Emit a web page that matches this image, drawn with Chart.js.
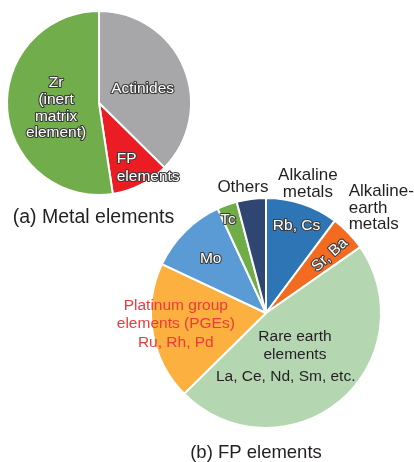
<!DOCTYPE html>
<html>
<head>
<meta charset="utf-8">
<script src="https://cdn.jsdelivr.net/npm/chart.js@4/dist/chart.umd.min.js"></script>
<style>
  html, body { margin: 0; padding: 0; background: #ffffff; }
  #wrap { position: relative; width: 414px; height: 462px; overflow: hidden; }
  #wrap canvas { position: absolute; left: 0; top: 0; }
</style>
</head>
<body>
<div id="wrap">
  <canvas id="metal" width="414" height="462"></canvas>
  <canvas id="fp" width="414" height="462"></canvas>
</div>
<script>
// (a) Metal elements, clockwise from 12 o'clock (share, %)
const metalCategories = ['Actinides', 'FP elements', 'Zr (inert matrix element)'];
const metalValues = [37.4, 10.2, 52.4];
const metalColors = ['#a7a7aa', '#ec1c24', '#71ad4a'];

// (b) FP elements, clockwise from 12 o'clock (share, %)
const fpCategories = ['Alkaline metals', 'Alkaline-earth metals', 'Rare earth elements',
  'Platinum group elements (PGEs)', 'Mo', 'Tc', 'Others'];
const fpValues = [10.2, 5.1, 47.3, 19.4, 11.1, 2.8, 4.1];
const fpColors = ['#2e75b6', '#f26b21', '#b4d6b1', '#fbb040', '#5b9bd5', '#70ad47', '#2f4572'];

const titleA = '(a) Metal elements';
const titleB = '(b) FP elements';

const FONT = '"Liberation Sans", Arial, Helvetica, sans-serif';
const DARK = '#231f20';

// Label styles: 'outline' = white text with dark rim, 'plain' = solid colour
// Each label sits at (rf * radius) from the centre, at the slice mid-angle + da degrees.
const metalLabels = [
  { slice: 0, lines: ['Actinides'], rf: 0.50, da: 4, size: 15.5, lh: 17, style: 'outline' },
  { slice: 1, lines: ['FP', 'elements'], rf: 0.73, da: 11.7, size: 15.5, lh: 18, style: 'outline', align: 'left' },
  { slice: 2, lines: ['Zr', '(inert', 'matrix', 'element)'], rf: 0.47, da: -2.3, size: 15.5, lh: 16.7, style: 'outline' }
];

const fpLabels = [
  { slice: 0, lines: ['Rb, Cs'], rf: 0.80, da: 1, size: 15.5, lh: 17, style: 'outline' },
  { slice: 0, lines: ['Alkaline', 'metals'], rf: 1.18, da: -0.4, size: 17, lh: 17, style: 'plain', color: DARK },
  { slice: 1, lines: ['Sr, Ba'], rf: 0.75, da: 1.8, size: 15.5, lh: 17, style: 'outline', radial: true },
  { slice: 1, lines: ['Alkaline-', 'earth', 'metals'], rf: 1.16, da: -7.6, size: 17, lh: 16.5, style: 'plain', color: DARK, align: 'left' },
  { slice: 2, lines: ['Rare earth', 'elements'], rf: 0.38, da: -1.7, size: 15.5, lh: 18.3, style: 'plain', color: DARK },
  { slice: 2, lines: ['La, Ce, Nd, Sm, etc.'], rf: 0.58, da: 22.6, size: 15.5, lh: 18, style: 'plain', color: DARK },
  { slice: 3, lines: ['Platinum group', 'elements (PGEs)', 'Ru, Rh, Pd'], rf: 0.79, da: 2.8, size: 15.5, lh: 18.3, style: 'plain', color: '#ee3a3a' },
  { slice: 4, lines: ['Mo'], rf: 0.675, da: -0.6, size: 15.5, lh: 17, style: 'outline' },
  { slice: 5, lines: ['Tc'], rf: 0.88, da: -2.3, size: 15.5, lh: 17, style: 'outline' },
  { slice: 6, lines: ['Others'], rf: 1.115, da: -3, size: 17, lh: 17, style: 'plain', color: DARK }
];

function drawLines(ctx, lbl, x, y) {
  ctx.save();
  ctx.translate(x, y);
  if (lbl.rot) ctx.rotate(lbl.rot);
  ctx.font = lbl.size + 'px ' + FONT;
  ctx.textAlign = lbl.align || 'center';
  ctx.textBaseline = 'middle';
  const n = lbl.lines.length;
  lbl.lines.forEach((t, i) => {
    const ty = (i - (n - 1) / 2) * lbl.lh;
    if (lbl.style === 'outline') {
      ctx.lineJoin = 'round';
      ctx.lineWidth = 2.2;
      ctx.strokeStyle = '#3b3b3b';
      ctx.strokeText(t, 0, ty);
      ctx.fillStyle = '#ffffff';
      ctx.fillText(t, 0, ty);
    } else {
      ctx.fillStyle = lbl.color || DARK;
      ctx.fillText(t, 0, ty);
    }
  });
  ctx.restore();
}

function sliceLabelPlugin(labels, title) {
  return {
    id: 'sliceLabels',
    afterDatasetsDraw(chart) {
      const ctx = chart.ctx;
      const arcs = chart.getDatasetMeta(0).data;
      labels.forEach(lbl => {
        const p = arcs[lbl.slice].getProps(['x', 'y', 'startAngle', 'endAngle', 'outerRadius'], true);
        const a = (p.startAngle + p.endAngle) / 2 + lbl.da * Math.PI / 180;
        const r = lbl.rf * p.outerRadius;
        const item = Object.assign({}, lbl, { rot: lbl.radial ? a : 0 });
        drawLines(ctx, item, p.x + Math.cos(a) * r, p.y + Math.sin(a) * r);
      });
      ctx.save();
      ctx.font = title.size + 'px ' + FONT;
      ctx.fillStyle = DARK;
      ctx.textAlign = 'center';
      ctx.textBaseline = 'middle';
      ctx.fillText(title.text, title.x, title.y);
      ctx.restore();
    }
  };
}

function pieConfig(cats, vals, cols, padding, plugin) {
  return {
    type: 'pie',
    data: {
      labels: cats,
      datasets: [{
        data: vals,
        backgroundColor: cols,
        borderColor: '#ffffff',
        borderWidth: 2
      }]
    },
    options: {
      responsive: false,
      animation: false,
      devicePixelRatio: 1,
      layout: { padding: padding },
      plugins: { legend: { display: false }, tooltip: { enabled: false }, title: { display: false } },
      events: []
    },
    plugins: [plugin]
  };
}

new Chart(document.getElementById('metal'), pieConfig(
  metalCategories, metalValues, metalColors,
  { left: 6, right: 222, top: 10, bottom: 266 },
  sliceLabelPlugin(metalLabels, { text: titleA, x: 93.5, y: 218, size: 19.5 })
));

new Chart(document.getElementById('fp'), pieConfig(
  fpCategories, fpValues, fpColors,
  { left: 150, right: 32, top: 197, bottom: 33 },
  sliceLabelPlugin(fpLabels, { text: titleB, x: 256, y: 453, size: 18.5 })
));
</script>
</body>
</html>
